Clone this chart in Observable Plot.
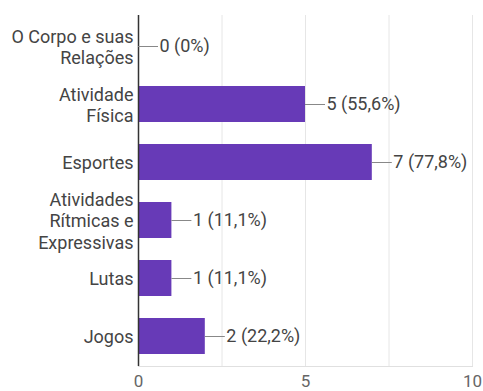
<!DOCTYPE html>
<html><head><meta charset="utf-8">
<script src="https://cdn.jsdelivr.net/npm/d3@7"></script>
<script src="https://cdn.jsdelivr.net/npm/@observablehq/plot@0.6"></script>
<style>body{margin:0;background:#fff;font-family:Roboto,sans-serif}</style>
</head><body><div id="chart"></div>
<script>
const categories = ["O Corpo e suas Relações", "Atividade Física", "Esportes", "Atividades Rítmicas e Expressivas", "Lutas", "Jogos"];
const counts = [0, 5, 7, 1, 1, 2];
const percents = ["0%", "55,6%", "77,8%", "11,1%", "11,1%", "22,2%"];
const xTicks = [0, 5, 10];
const gridTicks = [0, 2.5, 5, 7.5, 10];
const labelLines = {
  "O Corpo e suas Relações": "O Corpo e suas\nRelações",
  "Atividade Física": "Atividade\nFísica",
  "Atividades Rítmicas e Expressivas": "Atividades\nRítmicas e\nExpressivas"
};
const data = categories.map((c, i) => ({category: c, value: counts[i], pct: percents[i]}));
const chart = Plot.plot({
  width: 483, height: 391,
  marginLeft: 138, marginRight: 11, marginTop: 15, marginBottom: 25,
  style: {fontFamily: "Roboto, sans-serif", background: "#fff"},
  x: {domain: [0, 10]},
  y: {domain: categories, paddingInner: 0.38, paddingOuter: 0.19},
  marks: [
    Plot.ruleX(gridTicks, {stroke: "#e6e6e6", strokeWidth: 1}),
    Plot.frame({anchor: "bottom", stroke: "#e0e0e0"}),
    Plot.barX(data, {x: "value", y: "category", fill: "#673ab7"}),
    Plot.ruleX([0], {stroke: "#333", strokeWidth: 1.5}),
    Plot.ruleY(data, {y: "category", x1: "value", x2: "value", insetRight: -20, stroke: "#888", strokeWidth: 1}),
    Plot.text(data, {y: "category", x: "value", text: d => `${d.value} (${d.pct})`, dx: 21, textAnchor: "start", fontSize: 18, fill: "#444"}),
    Plot.axisY({tickSize: 0, tickPadding: 5, fontSize: 18, lineHeight: 1.2, color: "#444", label: null, tickFormat: c => labelLines[c] || c}),
    Plot.axisX({ticks: xTicks, tickSize: 0, tickPadding: 8, fontSize: 17, color: "#666", label: null})
  ]
});
document.getElementById("chart").appendChild(chart);
</script></body></html>
